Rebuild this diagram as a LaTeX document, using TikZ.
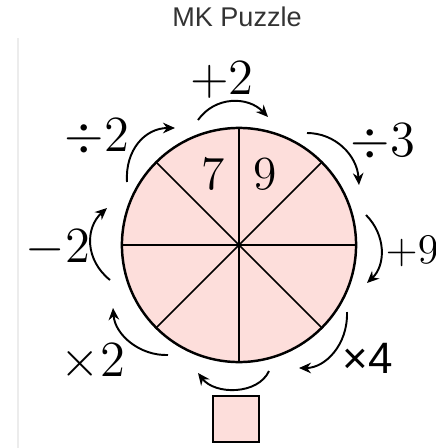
\documentclass[tikz,border=0pt]{standalone}
\usepackage{fontspec}
\newfontfamily\titlefont{Liberation Sans}
\usetikzlibrary{arrows.meta,positioning}
\definecolor{wheelPink}{RGB}{253,222,219}
\definecolor{titleGray}{RGB}{51,51,51}
\definecolor{frameGray}{RGB}{236,236,236}
\tikzset{
  oplabel/.style={inner sep=0pt, font=\rmfamily\fontsize{13.5}{15}\selectfont},
  oparrow/.style={-{Stealth[length=3.4pt,width=3pt]}, line width=0.55pt},
  spoke/.style={line width=0.45pt},
}

\begin{document}
\begin{tikzpicture}[x=0.01cm, y=-0.01cm]
    \useasboundingbox (0,0) rectangle (436,448);
    % Title and faint frame edge
    \node[font=\titlefont\fontsize{7.7}{9}\selectfont, text=titleGray] (title) at (237,17) {MK Puzzle};
    \draw[frameGray, line width=0.6pt] (18,38) -- (18,448);
    % Wheel
    \coordinate (ctr) at (239,245);
    \fill[wheelPink] (ctr) circle (1.17cm);
    \foreach \a in {0,45,...,315}
      \draw[spoke] (ctr) -- ++(\a:1.17cm);
    \draw[line width=0.7pt] (ctr) circle (1.17cm);
    \node[oplabel] (seven) at (213,174) {7};
    \node[oplabel] (nine) at (265,174) {9};
    % Arrow ends
    \coordinate (topA) at (198,120);  \coordinate (topB) at (268,117);
    \coordinate (tlA) at (127,182);   \coordinate (tlB) at (175,128);
    \coordinate (trA) at (307,133);   \coordinate (trB) at (359,185);
    \coordinate (lA) at (110,280);    \coordinate (lB) at (107,208);
    \coordinate (rA) at (366,215);    \coordinate (rB) at (367,283);
    \coordinate (blA) at (168,355);   \coordinate (blB) at (113,308);
    \coordinate (brA) at (347,312);   \coordinate (brB) at (299,368);
    \coordinate (botA) at (269,371);  \coordinate (botB) at (198,373);
    % Operation arrows
    \draw[oparrow] (topA) .. controls (215,96) and (248,96) .. (topB);
    \draw[oparrow] (tlA) .. controls (125,150) and (145,128) .. (tlB);
    \draw[oparrow] (trA) .. controls (335,133) and (357,155) .. (trB);
    \draw[oparrow] (lA) .. controls (85,260) and (85,228) .. (lB);
    \draw[oparrow] (rA) .. controls (386,235) and (386,265) .. (rB);
    \draw[oparrow] (blA) .. controls (140,356) and (115,335) .. (blB);
    \draw[oparrow] (brA) .. controls (348,345) and (325,368) .. (brB);
    \draw[oparrow] (botA) .. controls (258,395) and (215,395) .. (botB);
    % Operation labels
    \node[oplabel] (plusTwo) at (222,80) {$+2$};
    \node[oplabel] (divTwo) at (97,137) {$\div2$};
    \node[oplabel] (divThree) at (383,142) {$\div3$};
    \node[oplabel] (minusTwo) at (58,248) {$-2$};
    \node[oplabel, anchor=west, font=\rmfamily\fontsize{11.5}{14}\selectfont] (plusNine) at (385,252) {$+9$};
    \node[oplabel] (timesTwo) at (93,362) {$\times2$};
    \node[oplabel, font=\titlefont\fontsize{12.5}{14}\selectfont] (timesFour) at (368,358) {×4};
    % Answer box
    \node[draw, fill=wheelPink, line width=0.75pt, minimum size=0.46cm, inner sep=0pt] (answer) at (236,419) {};
\end{tikzpicture}
\end{document}
